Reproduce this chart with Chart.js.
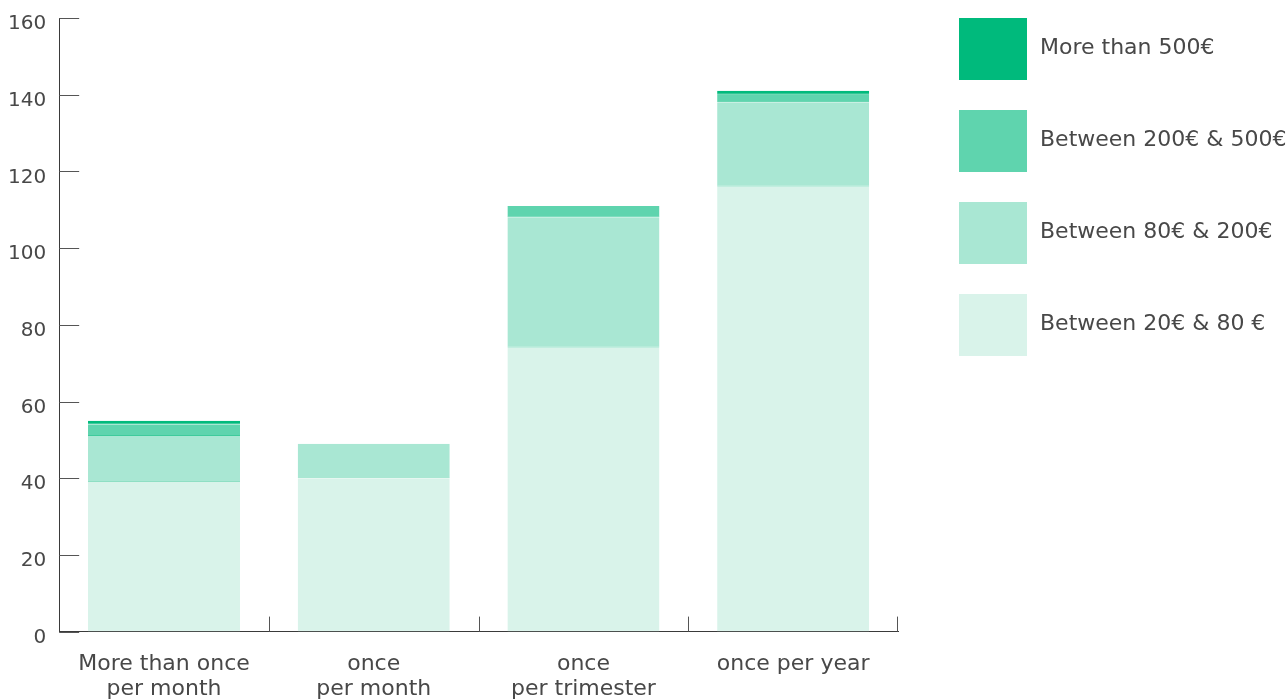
<!DOCTYPE html>
<html>
<head>
<meta charset="utf-8">
<script src="https://cdn.jsdelivr.net/npm/chart.js@4"></script>
<style>
  html, body { margin: 0; padding: 0; background: #fff; }
  #wrap { width: 1288px; height: 699px; position: relative; }
</style>
</head>
<body>
<div id="wrap"><canvas id="chart"></canvas></div>
<script>
const categories = [["More than once", "per month"], ["once", "per month"], ["once", "per trimester"], "once per year"];
const seriesNames = ["Between 20€ & 80 €", "Between 80€ & 200€", "Between 200€ & 500€", "More than 500€"];
const range20to80 = [39, 40, 74, 116];
const range80to200 = [12, 9, 34, 22];
const range200to500 = [3, 0, 3, 2];
const over500 = [1, 0, 0, 1];
const yTicks = [0, 20, 40, 60, 80, 100, 120, 140, 160];

const fillColors = ["#d9f3ea", "#a9e7d3", "#5fd4ae", "#00ba7c"];
const edgeColors = ["#c6ecdf", "#8fdfc4", "#3fcb9c", "#00ba7c"];
const textColor = "#484848";
const fontFamily = "'DejaVu Sans', sans-serif";

// short tick marks drawn inward from the axes
const innerTicks = {
  id: "innerTicks",
  afterDatasetsDraw(chart) {
    const { ctx, chartArea, scales: { x, y } } = chart;
    ctx.save();
    ctx.strokeStyle = "#555";
    ctx.lineWidth = 1;
    yTicks.forEach((v) => {
      const py = Math.round(y.getPixelForValue(v)) + 0.5;
      ctx.beginPath();
      ctx.moveTo(chartArea.left, py);
      ctx.lineTo(chartArea.left + 20, py);
      ctx.stroke();
    });
    for (let i = 1; i <= categories.length; i++) {
      const px = i === categories.length ? chartArea.right - 0.5 : Math.round(x.getPixelForValue(i - 0.5)) + 0.5;
      ctx.beginPath();
      ctx.moveTo(px, chartArea.bottom);
      ctx.lineTo(px, chartArea.bottom - 15);
      ctx.stroke();
    }
    ctx.restore();
  },
};

// legend on the right, top series first
const sideLegend = {
  id: "sideLegend",
  afterDraw(chart) {
    const { ctx } = chart;
    const sets = chart.data.datasets.slice().reverse();
    ctx.save();
    ctx.font = "22px " + fontFamily;
    ctx.textBaseline = "middle";
    ctx.textAlign = "left";
    sets.forEach((ds, i) => {
      const top = 18 + i * 92;
      ctx.fillStyle = ds.backgroundColor;
      ctx.fillRect(959, top, 68, 62);
      ctx.fillStyle = textColor;
      ctx.fillText(ds.label, 1040, top + 30);
    });
    ctx.restore();
  },
};

const seriesData = [range20to80, range80to200, range200to500, over500];

new Chart(document.getElementById("chart"), {
  type: "bar",
  data: {
    labels: categories,
    datasets: seriesData.map((d, i) => ({
      label: seriesNames[i],
      data: d,
      backgroundColor: fillColors[i],
      borderColor: edgeColors[i],
      borderWidth: { top: 0, bottom: 1, left: 0, right: 0 },
      borderSkipped: false,
      barPercentage: 0.725,
      categoryPercentage: 1,
    })),
  },
  options: {
    responsive: true,
    maintainAspectRatio: false,
    animation: false,
    layout: { padding: { top: 18, left: -5, right: 390, bottom: -23 } },
    scales: {
      x: {
        stacked: true,
        grid: { display: false, drawTicks: false },
        border: { display: true, color: "#3a3a3a", width: 1 },
        ticks: {
          color: textColor,
          padding: 21,
          font: { family: fontFamily, size: 22, lineHeight: 1.1 },
          maxRotation: 0,
        },
      },
      y: {
        stacked: true,
        min: 0,
        max: 160,
        grid: { display: false, drawTicks: false },
        border: { display: true, color: "#3a3a3a", width: 1 },
        afterFit: (scale) => {
          scale.paddingTop = 0;
        },
        ticks: {
          stepSize: 20,
          color: textColor,
          padding: 13,
          labelOffset: 6,
          font: { family: fontFamily, size: 20 },
        },
      },
    },
    plugins: {
      legend: { display: false },
      tooltip: { enabled: false },
    },
  },
  plugins: [innerTicks, sideLegend],
});
</script>
</body>
</html>
